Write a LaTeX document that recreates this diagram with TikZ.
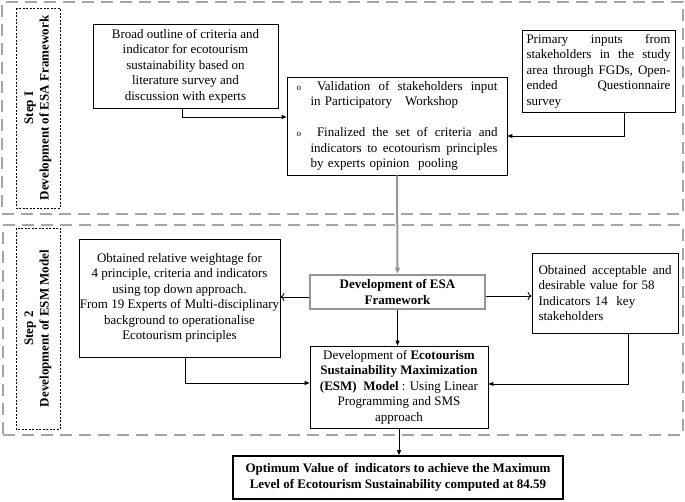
\documentclass[tikz,border=0pt]{standalone}
\usepackage{fontspec}
\setmainfont{Liberation Serif}
\usepackage{tikz}
\usetikzlibrary{calc,arrows.meta}

\definecolor{stepgray}{RGB}{165,165,165}
\definecolor{esagray}{RGB}{150,150,150}
\newcommand{\fsz}{\fontsize{13}{15.5}\selectfont}
\newcommand{\jline}[2]{\leavevmode\hbox to #1{#2}}

\begin{document}
\begin{tikzpicture}[x=1pt,y=-1pt,semithick,font=\fsz,
  box/.style={draw,line width=0.8pt,inner sep=0pt,align=center},
  steplabel/.style={draw,line width=0.7pt,dash pattern=on 2pt off 1.5pt,rotate=90,
    minimum width=200pt,minimum height=44pt,inner sep=0pt,align=center,font=\fsz\bfseries},
  outer/.style={draw=stepgray,line width=2.5pt,dash pattern=on 12pt off 7pt},
  link/.style={line width=0.9pt,-{Triangle[length=5pt,width=4pt]}},
  openlink/.style={line width=0.9pt,-{To[length=4pt,width=8pt]}}]
  \useasboundingbox (0,0) rectangle (685,501);

  % the two steps
  \node [outer,minimum width=681pt,minimum height=212pt,inner sep=0pt] (stepone) at (342.5,108) {};
  \node [outer,minimum width=680pt,minimum height=210pt,inner sep=0pt] (steptwo) at (343,330) {};
  \node [steplabel] (labone) at (38,108) {Step I\\Development of ESA Framework};
  \node [steplabel,minimum width=201pt] (labtwo) at (38,328.5) {Step 2\\Development of ESM Model};

  % step I
  \node [box,minimum width=185pt,minimum height=84pt] (broad) at (185.5,66)
    {Broad outline of criteria and\\indicator for ecotourism\\sustainability based on\\literature survey and\\discussion with experts};
  \node [box,minimum width=153pt,minimum height=82pt,text width=144pt,align=left] (primary) at (598.5,71)
    {\jline{144pt}{Primary \hfill inputs \hfill from}\\
     \jline{144pt}{stakeholders \hfill in \hfill the \hfill study}\\
     \jline{144pt}{area \hfill through \hfill FGDs, \hfill Open-}\\
     \jline{144pt}{ended \hfill Questionnaire}\\survey};
  \node [box,minimum width=220pt,minimum height=98pt,text width=201pt,align=left,inner xsep=9.5pt] (valid) at (397,126)
    {\jline{201pt}{{\small o}\hspace{16pt}Validation \hfill of \hfill stakeholders \hfill input}\\
     \hspace*{14pt}in Participatory\ \ \ Workshop\\[15.5pt]
     \jline{201pt}{{\small o}\hspace{16pt}Finalized \hfill the \hfill set \hfill of \hfill criteria \hfill and}\\
     \hspace*{14pt}\jline{187pt}{indicators \hfill to \hfill ecotourism \hfill principles}\\
     \hspace*{14pt}by experts opinion\ \ pooling};

  % step 2
  \node [box,draw=esagray,line width=2.6pt,minimum width=175pt,minimum height=34pt,font=\fsz\bfseries] (esa) at (397.5,292)
    {Development of ESA\\Framework};
  \node [box,minimum width=201pt,minimum height=118pt] (weight) at (179.5,298)
    {Obtained relative weightage for\\4 principle, criteria and indicators\\using top down approach.\\From 19 Experts of Multi-disciplinary\\background to operationalise\\Ecotourism principles};
  \node [box,minimum width=146pt,minimum height=80pt,text width=133pt,align=left] (accept) at (605,293)
    {\jline{133pt}{Obtained \hfill acceptable \hfill and}\\desirable value for 58\\Indicators 14\ \ key\\stakeholders};
  \node [box,minimum width=178pt,minimum height=82pt] (esm) at (399,387)
    {Development of \textbf{Ecotourism}\\\textbf{Sustainability Maximization}\\\textbf{(ESM)\ \ Model} : Using Linear\\Programming and SMS\\approach};
  \node [box,line width=1.8pt,minimum width=330pt,minimum height=43pt,font=\fsz\bfseries] (final) at (398,477.5)
    {Optimum Value of\ \ indicators to achieve the Maximum\\Level of Ecotourism Sustainability computed at 84.59};

  % connectors
  \draw [link] ([xshift=-3pt]broad.south) |- ([yshift=9pt]valid.west);
  \draw [link] ([xshift=26pt]primary.south) |- ([yshift=-10pt]valid.east);
  \draw [esagray,line width=2pt,-{Triangle[length=6pt,width=5pt]}] (valid.south) -- (esa.north);
  \draw [openlink] ([yshift=-5pt]esa.west) -- ([yshift=-5pt]esa.west -| weight.east);
  \draw [openlink] ([yshift=-4pt]esa.east) -- ([yshift=-4pt]esa.east -| accept.west);
  \draw [link] (esa.south) -- (esa.south |- esm.north);
  \draw [link] ([xshift=6pt]weight.south) |- ([yshift=4pt]esm.west);
  \draw [link] ([xshift=23pt]accept.south) |- ([yshift=3pt]esm.east);
  \draw [link] (esm.south) -- (esm.south |- final.north);
\end{tikzpicture}
\end{document}
